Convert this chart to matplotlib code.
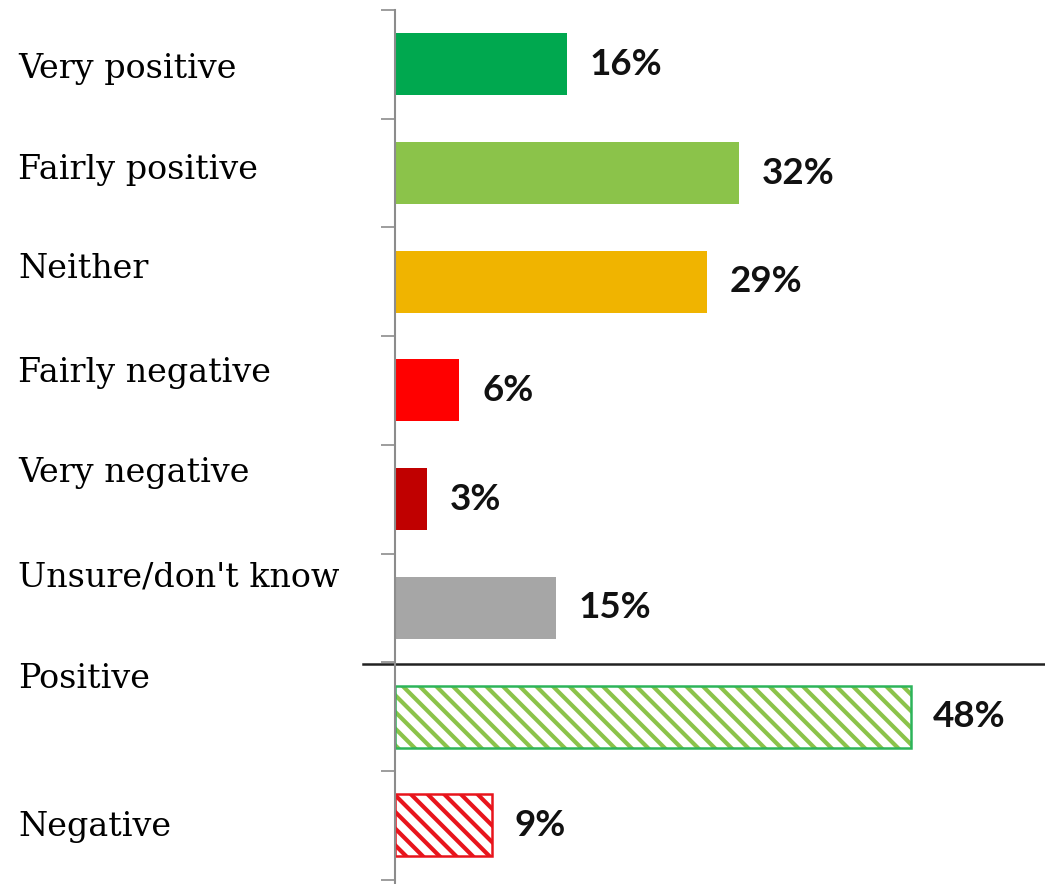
import numpy as np
import matplotlib
matplotlib.use("Agg")
import matplotlib.pyplot as plt
import matplotlib.transforms as mtransforms

categories = ["Very positive", "Fairly positive", "Neither", "Fairly negative",
              "Very negative", "Unsure/don't know", "Positive", "Negative"]
values = [16, 32, 29, 6, 3, 15, 48, 9]
colors = ["#00A84F", "#8BC34A", "#F0B400", "#FF0000", "#C00000", "#A6A6A6",
          "#8BC34A", "#E8141C"]
edge_colors = [None, None, None, None, None, None, "#2DB45A", "#E8141C"]
hatched = [False, False, False, False, False, False, True, True]
# category labels sit a little off their bars in the original
label_offsets = [0.04, -0.03, -0.12, -0.16, -0.24, -0.28, -0.35, 0.02]

plt.rcParams["hatch.linewidth"] = 3.0

fig = plt.figure(figsize=(10.45, 8.84), dpi=100)
ax = fig.add_axes([395 / 1045, 0, 650 / 1045, 874 / 884])

for i, (v, c, ec, h) in enumerate(zip(values, colors, edge_colors, hatched)):
    if h:
        ax.barh(i, v, height=0.57, color="white", edgecolor=c, hatch="\\\\",
                linewidth=0)
        ax.barh(i, v, height=0.57, fill=False, edgecolor=ec, linewidth=1.8)
    else:
        ax.barh(i, v, height=0.57, color=c, linewidth=0)
    ax.text(v + 2.1, i, f"{v}%", va="center", ha="left", fontsize=26.5,
            fontweight="bold", family="Lato", color="#111111")

ax.set_xlim(0, 60.5)
ax.set_ylim(7.54, -0.5)

for s in ["top", "right", "bottom"]:
    ax.spines[s].set_visible(False)
ax.spines["left"].set_color("#8C8C8C")
ax.spines["left"].set_linewidth(1.5)
ax.set_xticks([])
ax.set_yticks(np.arange(-0.5, len(categories), 1.0))
ax.set_yticklabels([])
ax.tick_params(axis="y", direction="out", length=10, width=1.2, color="#8C8C8C")

# divider between detail and summary rows
trans = mtransforms.blended_transform_factory(ax.transAxes, ax.transData)
ax.plot([-0.05, 1.0], [5.52, 5.52], transform=trans, color="#222222",
        linewidth=1.8, clip_on=False)

# category labels at the far left
lab_trans = mtransforms.blended_transform_factory(fig.transFigure, ax.transData)
for i, (cat, off) in enumerate(zip(categories, label_offsets)):
    ax.text(18 / 1045, i + off, cat, transform=lab_trans, va="center",
            ha="left", fontsize=24, family="DejaVu Serif", color="black",
            clip_on=False)

fig.savefig("out.png", dpi=100)
